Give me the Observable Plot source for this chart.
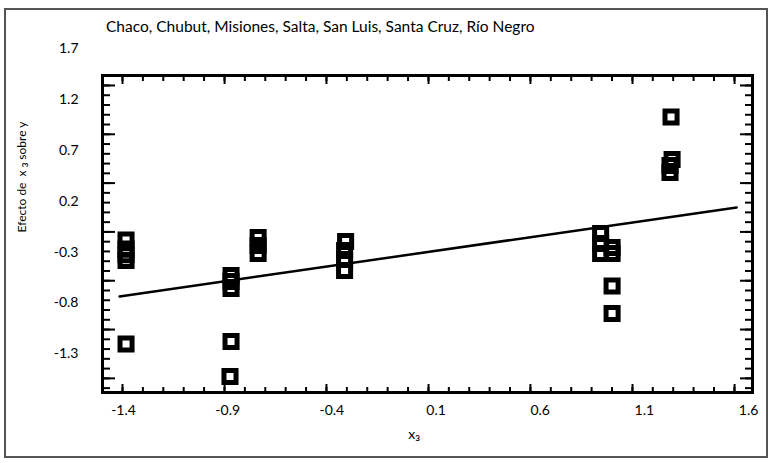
<!DOCTYPE html>
<html>
<head>
<meta charset="utf-8">
<script src="https://cdn.jsdelivr.net/npm/d3@7"></script>
<script src="https://cdn.jsdelivr.net/npm/@observablehq/plot@0.6"></script>
<style>
  html, body { margin: 0; padding: 0; background: #fff; }
  #wrap { position: relative; width: 772px; height: 463px; font-family: Lato, "Open Sans", sans-serif; color: #000; }
  #border { position: absolute; left: 4px; top: 8px; width: 764px; height: 450px; border: 2px solid #555; box-sizing: border-box; pointer-events: none; }
  #chart { position: absolute; left: 0; top: 0; }
  #title { position: absolute; left: 106px; top: 17px; font-size: 15.5px; white-space: nowrap; }
  #ytitle { position: absolute; left: 22px; top: 177px; transform: translate(-50%, -50%) rotate(-90deg); font-size: 12px; white-space: nowrap; }
  #xtitle { position: absolute; left: 414px; top: 434px; transform: translate(-50%, -50%); font-size: 14px; white-space: nowrap; }
  sub { font-size: 8px; font-weight: bold; vertical-align: -2px; }
</style>
</head>
<body>
<div id="wrap">
  <div id="chart"></div>
  <div id="border"></div>
  <div id="title">Chaco, Chubut, Misiones, Salta, San Luis, Santa Cruz, Río Negro</div>
  <div id="ytitle">Efecto de&nbsp; x <sub>3</sub> sobre y</div>
  <div id="xtitle">x<sub>3</sub></div>
</div>
<script>
// ---- data (in units of the printed tick labels) ----
const pointX = [
  -1.388, -1.388, -1.388, -1.388, -1.388,
  -0.884, -0.884, -0.884, -0.884, -0.889,
  -0.754, -0.754, -0.754,
  -0.334, -0.339, -0.339, -0.339,
  0.890, 0.890, 0.890,
  0.945, 0.945, 0.945, 0.945,
  1.228, 1.233, 1.223, 1.223
];
const pointY = [
  -0.180, -0.270, -0.325, -0.382, -1.203,
  -0.529, -0.588, -0.657, -1.178, -1.522,
  -0.155, -0.234, -0.313,
  -0.195, -0.283, -0.372, -0.480,
  -0.116, -0.214, -0.313,
  -0.254, -0.313, -0.632, -0.903,
  1.029, 0.612, 0.553, 0.484
];
const fitX = [-1.419, 1.543];
const fitY = [-0.736, 0.140];

const xTickValues = [-1.4, -0.9, -0.4, 0.1, 0.6, 1.1, 1.6];
const xTickLabels = ["-1.4", "-0.9", "-0.4", "0.1", "0.6", "1.1", "1.6"];
const yTickValues = [1.7, 1.2, 0.7, 0.2, -0.3, -0.8, -1.3];
const yTickLabels = ["1.7", "1.2", "0.7", "0.2", "-0.3", "-0.8", "-1.3"];
// where the inward tick marks sit in the picture (they do not line up exactly with the labels)
const xMajorMarks = [-1.405, -0.915, -0.426, 0.064, 0.553, 1.043, 1.533];
const xMinorMarks = d3.range(0, 31).map(i => -1.405 + i * 0.0979);
const yMajorMarks = [1.339, 0.859, 0.379, -0.101, -0.581, -1.061, -1.541];
const yMinorMarks = d3.range(0, 33).map(i => 1.435 - i * 0.096);

const points = pointX.map((x, i) => ({x, y: pointY[i]}));
const fit = fitX.map((x, i) => ({x, y: fitY[i]}));

const tickStyle = {fill: "none", stroke: "black", strokeWidth: 2};

const chart = Plot.plot({
  width: 772,
  height: 463,
  marginLeft: 102,
  marginRight: 20,
  marginTop: 75,
  marginBottom: 71,
  style: {fontFamily: "Lato, 'Open Sans', sans-serif", fontSize: "14px", background: "transparent", color: "black"},
  x: {domain: [-1.501, 1.619]},
  y: {domain: [-1.68, 1.437]},
  marks: [
    Plot.axisX(xMinorMarks, {anchor: "top", frameAnchor: "bottom", tickSize: 6, ...tickStyle}),
    Plot.axisX(xMajorMarks, {anchor: "top", frameAnchor: "bottom", tickSize: 9, ...tickStyle}),
    Plot.axisX(xMinorMarks, {anchor: "bottom", frameAnchor: "top", tickSize: 6, ...tickStyle}),
    Plot.axisX(xMajorMarks, {anchor: "bottom", frameAnchor: "top", tickSize: 9, ...tickStyle}),
    Plot.axisY(yMinorMarks, {anchor: "right", frameAnchor: "left", tickSize: 7, ...tickStyle}),
    Plot.axisY(yMajorMarks, {anchor: "right", frameAnchor: "left", tickSize: 12, ...tickStyle}),
    Plot.axisY(yMinorMarks, {anchor: "left", frameAnchor: "right", tickSize: 7, ...tickStyle}),
    Plot.axisY(yMajorMarks, {anchor: "left", frameAnchor: "right", tickSize: 12, ...tickStyle}),
    Plot.axisX(xTickValues, {anchor: "bottom", tickSize: 0, tickPadding: 13, label: null,
      tickFormat: (d, i) => xTickLabels[i], fontSize: 14}),
    Plot.axisY(yTickValues, {anchor: "left", tickSize: 0, tickPadding: 24, label: null,
      tickFormat: (d, i) => yTickLabels[i], fontSize: 14}),
    Plot.frame({stroke: "black", strokeWidth: 3}),
    Plot.line(fit, {x: "x", y: "y", stroke: "black", strokeWidth: 2.5}),
    Plot.dot(points, {x: "x", y: "y", symbol: "square", r: 6.8, stroke: "black", strokeWidth: 5, fill: "none"})
  ]
});
document.getElementById("chart").appendChild(chart);
</script>
</body>
</html>
